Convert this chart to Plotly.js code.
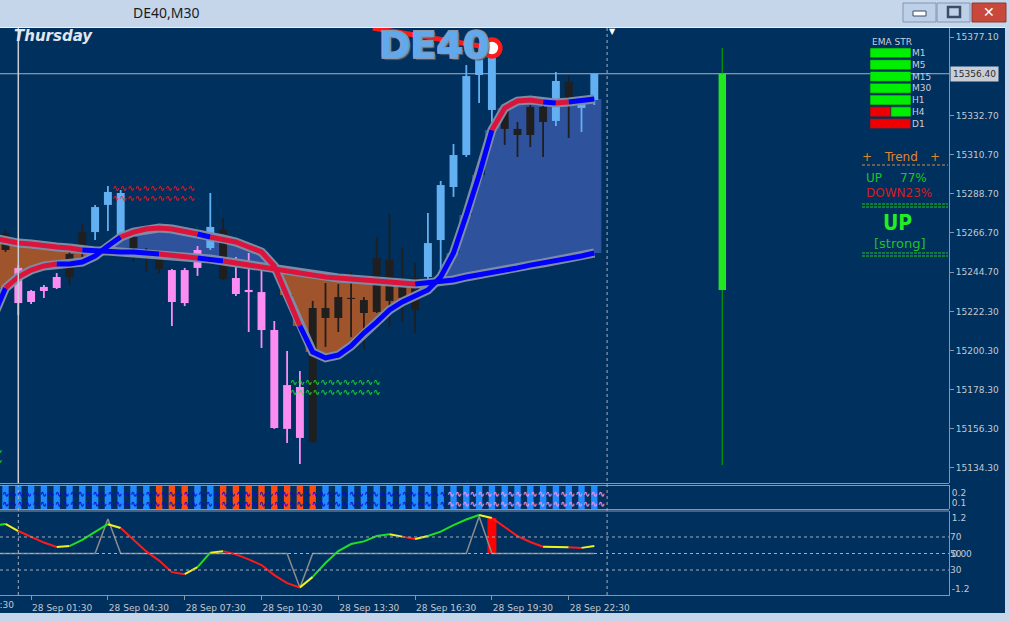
<!DOCTYPE html>
<html><head><meta charset="utf-8">
<script src="https://cdn.plot.ly/plotly-3.0.1.min.js"></script>
<style>html,body{margin:0;padding:0;background:#00305e;overflow:hidden}</style>
</head><body><div id="chart" style="width:1010px;height:621px"></div>
<script>
// ---------------- DATA ----------------
const barTimes = ['28 Sep 00:30','28 Sep 01:00','28 Sep 01:30','28 Sep 02:00','28 Sep 02:30','28 Sep 03:00','28 Sep 03:30','28 Sep 04:00','28 Sep 04:30','28 Sep 05:00','28 Sep 05:30','28 Sep 06:00','28 Sep 06:30','28 Sep 07:00','28 Sep 07:30','28 Sep 08:00','28 Sep 08:30','28 Sep 09:00','28 Sep 09:30','28 Sep 10:00','28 Sep 10:30','28 Sep 11:00','28 Sep 11:30','28 Sep 12:00','28 Sep 12:30','28 Sep 13:00','28 Sep 13:30','28 Sep 14:00','28 Sep 14:30','28 Sep 15:00','28 Sep 15:30','28 Sep 16:00','28 Sep 16:30','28 Sep 17:00','28 Sep 17:30','28 Sep 18:00','28 Sep 18:30','28 Sep 19:00','28 Sep 19:30','28 Sep 20:00','28 Sep 20:30','28 Sep 21:00','28 Sep 21:30','28 Sep 22:00','28 Sep 22:30','28 Sep 23:00','28 Sep 23:30'];
const xTickLabels = ['28 Sep 01:30','28 Sep 04:30','28 Sep 07:30','28 Sep 10:30','28 Sep 13:30','28 Sep 16:30','28 Sep 19:30','28 Sep 22:30'];
const priceTicks = [15377.10,15332.70,15310.70,15288.70,15266.70,15244.70,15222.30,15200.30,15178.30,15156.30,15134.30];
const lastPrice = 15356.40;

const open  = [15266.7,15247.0,15234.0,15236.3,15241.9,15241.9,15259.9,15267.2,15282.5,15289.2,15264.4,15255.4,15252.0,15245.8,15227.2,15247.0,15258.2,15268.4,15241.3,15233.4,15233.4,15212.0,15156.3,15179.9,15148.9,15224.4,15218.8,15230.1,15228.9,15222.2,15251.5,15230.1,15223.3,15241.9,15262.7,15292.6,15310.6,15355.7,15365.8,15336.0,15325.3,15321.9,15337.7,15329.8,15351.7,15337.1,15341.6];
const high  = [15268.4,15248.6,15234.6,15237.4,15244.1,15256.0,15271.7,15282.5,15293.2,15290.9,15265.5,15258.2,15253.2,15246.4,15247.0,15259.3,15289.2,15275.1,15253.2,15255.4,15245.8,15217.1,15200.2,15188.9,15228.4,15238.5,15237.9,15244.7,15230.6,15264.4,15277.4,15258.2,15249.8,15277.9,15296.0,15316.8,15361.3,15372.6,15370.9,15337.1,15329.2,15338.8,15338.8,15357.4,15355.1,15342.7,15356.4];
const low   = [15256.0,15220.5,15226.7,15230.1,15235.1,15237.4,15253.2,15262.7,15267.8,15261.6,15250.3,15244.7,15244.1,15214.3,15225.5,15242.5,15257.1,15240.2,15231.2,15210.9,15201.9,15156.3,15148.4,15136.5,15148.4,15202.5,15210.9,15208.1,15200.8,15221.6,15213.7,15216.5,15210.3,15240.2,15244.1,15287.0,15309.5,15339.9,15329.2,15316.3,15309.5,15315.1,15309.5,15327.0,15320.2,15323.6,15338.8];
const close = [15257.1,15227.2,15227.8,15234.0,15235.7,15254.8,15267.2,15281.3,15289.8,15263.9,15258.2,15254.3,15246.4,15227.8,15245.8,15257.1,15270.1,15240.8,15232.3,15234.6,15212.0,15156.8,15181.0,15151.2,15224.4,15218.8,15230.6,15229.5,15221.6,15252.6,15228.4,15238.5,15241.3,15261.0,15293.7,15310.6,15355.1,15365.8,15336.0,15325.3,15321.9,15337.7,15329.2,15352.3,15340.5,15339.9,15356.4];
const candleColor = ['d','p','p','p','p','d','d','b','b','b','d','d','d','p','p','p','b','d','p','p','p','p','p','p','d','d','d','d','d','d','d','d','d','b','b','b','b','b','b','d','d','d','d','b','d','b','b'];

// moving averages, index 0 = 28 Sep 00:00
const fastMA = [15218.8,15235.7,15241.9,15245.8,15248.1,15249.2,15249.2,15250.3,15253.7,15259.3,15264.4,15267.2,15268.9,15269.5,15268.9,15267.8,15266.1,15264.4,15263.3,15261.6,15258.8,15256.0,15248.1,15231.7,15214.3,15199.6,15196.3,15197.9,15203.0,15210.3,15216.5,15223.3,15227.8,15231.2,15234.6,15241.9,15255.4,15276.8,15299.4,15324.7,15337.1,15341.0,15341.6,15340.5,15339.9,15340.5,15341.0,15342.2];
const slowMA = [15263.9,15262.2,15261.0,15260.5,15259.3,15258.8,15258.2,15257.1,15256.5,15256.5,15256.0,15256.0,15255.4,15254.8,15254.3,15253.7,15252.6,15252.0,15250.9,15249.8,15248.6,15247.5,15246.4,15244.7,15243.6,15243.0,15241.9,15241.3,15240.8,15240.2,15239.6,15239.1,15238.5,15237.9,15238.5,15239.1,15240.2,15241.9,15243.0,15244.1,15245.3,15247.0,15248.6,15249.8,15251.5,15252.6,15253.7,15255.4];
const fastColor = ['b','b','r','r','r','r','b','b','b','b','b','r','r','r','r','r','r','b','r','r','r','r','r','r','r','b','b','b','b','b','b','b','b','b','b','b','b','b','b','b','r','r','r','r','b','r','b','b'];
const slowColor = ['r','r','r','r','r','r','r','r','b','b','b','b','b','b','r','r','r','b','b','r','r','r','r','r','r','r','r','r','r','r','r','r','r','r','b','b','b','b','b','b','b','b','b','b','b','b','b','b'];

// sub window 1: trend state histogram
const stateValue = [0.3,0.3,0.3,0.3,0.3,0.3,0.3,0.3,0.3,0.3,0.3,0.3,0.3,0.3,0.3,0.3,0.3,0.3,0.3,0.3,0.3,0.3,0.3,0.3,0.3,0.3,0.3,0.3,0.3,0.3,0.3,0.3,0.3,0.3,0.3,0.3,0.3,0.3,0.3,0.3,0.3,0.3,0.3,0.3,0.3,0.3,0.3];
const stateColor = ['u','u','u','u','u','u','u','u','u','u','u','u','o','o','o','u','u','o','o','o','o','o','o','o','o','u','u','u','u','u','u','u','u','u','u','u','u','u','u','u','u','u','u','u','u','u','u'];

// sub window 2: oscillator (index 0 = 00:00)
const oscValue = [0.93,1.00,0.76,0.56,0.37,0.22,0.25,0.46,0.73,0.99,0.86,0.46,0.07,-0.24,-0.63,-0.70,-0.46,0.03,0.08,-0.03,-0.20,-0.39,-0.73,-1.00,-1.15,-0.79,-0.32,0.08,0.32,0.41,0.59,0.65,0.57,0.49,0.59,0.74,0.96,1.15,1.30,1.20,0.90,0.59,0.39,0.23,0.22,0.21,0.19,0.25];
const oscColor = ['g','g','y','r','r','r','y','g','g','g','y','r','r','r','r','r','y','g','y','r','r','r','r','r','r','y','g','g','g','g','g','g','y','r','y','g','g','g','g','y','r','r','r','r','y','y','r','y'];
const signalValue = [0,0,0,0,0,0,0,0,0,1.17,0,0,0,0,0,0,0,0,0,0,0,0,0,0,-1.16,0,0,0,0,0,0,0,0,0,0,0,0,0,1.25,0,0,0,0,0,0,0,0,0];
const histValue = [0,0,0,0,0,0,0,0,0,0,0,0,0,0,0,0,0,0,0,0,0,0,0,0,0,0,0,0,0,0,0,0,0,0,0,0,0,0,1.2,0,0,0,0,0,0,0,0];
const oscLevels = [70,50,30];

// higher timeframe candle at right
const htfOpen = [15234.6], htfClose = [15356.4], htfHigh = [15370.9], htfLow = [15136.0];

// EMA strength panel
const tfLabels = ['M1','M5','M15','M30','H1','H4','D1'];
const tfUpPct = [100,100,100,100,100,49,0];
const trendUp = 77, trendDown = 23;

// arrow / marker object
const markLineX = [29.7, 39], markLineY = [15382.2, 15370.9];
const markDotX = [39], markDotY = [15370.9];

// zigzag objects [startBar, endBar, price, colour]
const zigzags = [[9.2,15.9,15292.0,'#ff1414'],[9.2,15.9,15286.4,'#ff1414'],[23.1,29.9,15182.7,'#22e822'],[23.1,29.9,15177.1,'#22e822']];

// ---------------- LAYOUT HELPERS ----------------
const PL = 0, PR = 949, PT = 28, PB = 595;
const px = x => (x - PL) / (PR - PL);
const py = y => (PB - y) / (PB - PT);
const xRange = [0.5703, 74.711];
const FONT = 'DejaVu Sans';
const AX = '#8a94a6', TXT = '#c3c8d1';

const xBars = barTimes.map((t, k) => k + 1);
const xLine = fastMA.map((v, k) => k);
const candleCol = {b:'#62b0f2', p:'#fb8cf2', d:'#1f1f1f'};
const maCol = {r:'#dc143c', b:'#0000ff'};
const oscCol = {g:'#1fe01f', y:'#f2f21e', r:'#ff1a1a'};

const traces = [];
// fill between MAs (histogram columns)
const fillCols = fastMA.map((f,i)=> f < slowMA[i] ? '#a0542c' : '#2f529c');
traces.push({type:'bar', x:xLine, base:fastMA.map((f,i)=>Math.min(f, slowMA[i])), y:fastMA.map((f,i)=>Math.abs(f-slowMA[i])),
  width:1.1, marker:{color:fillCols, line:{width:0}}, xaxis:'x', yaxis:'y', hoverinfo:'skip'});
// candles
traces.push({type:'bar', x:xBars, base:low, y:high.map((h,i)=>h-low[i]), width:0.14,
  marker:{color:candleColor.map(c=>candleCol[c])}, xaxis:'x', yaxis:'y'});
traces.push({type:'bar', x:xBars, base:open.map((o,i)=>Math.min(o, close[i])), y:open.map((o,i)=>Math.max(Math.abs(close[i]-o), 0.6)), width:0.62,
  marker:{color:candleColor.map(c=>candleCol[c])}, xaxis:'x', yaxis:'y'});
// higher timeframe candle
traces.push({type:'bar', x:[57], base:htfLow, y:htfHigh.map((h,i)=>h-htfLow[i]), width:0.09, marker:{color:'#0a9a0a'}, xaxis:'x', yaxis:'y'});
traces.push({type:'bar', x:[57], base:htfOpen, y:htfClose.map((c,i)=>c-htfOpen[i]), width:0.58, marker:{color:'#22e622'}, xaxis:'x', yaxis:'y'});

function runs(xs, ys, cols, map, extra) {
  const out = []; let s = 0;
  for (let i = 1; i < xs.length; i++) {
    const c = cols[i], nx = i + 1 < xs.length ? cols[i+1] : null;
    if (nx !== c) {
      out.push({type:'scatter', mode:'lines', x:xs.slice(s, i+1), y:ys.slice(s, i+1),
        line:{color:map[c], width:extra.width}, xaxis:'x', yaxis:extra.yaxis});
      s = i;
    }
  }
  return out;
}
// MA outlines then coloured lines
[slowMA, fastMA].forEach(ma => traces.push({type:'scatter', mode:'lines', x:xLine, y:ma, line:{color:'#7d8ca6', width:9}, xaxis:'x', yaxis:'y'}));
traces.push(...runs(xLine, slowMA, slowColor, maCol, {width:5, yaxis:'y'}));
traces.push(...runs(xLine, fastMA, fastColor, maCol, {width:5, yaxis:'y'}));
// marker line + dot
traces.push({type:'scatter', mode:'lines', x:markLineX, y:markLineY, line:{color:'#ff1a1a', width:5}, xaxis:'x', yaxis:'y'});
traces.push({type:'scatter', mode:'markers', x:markDotX, y:markDotY, marker:{size:17, color:'#ffffff', line:{color:'#ff1a1a', width:4.5}}, xaxis:'x', yaxis:'y'});

// sub window 1
traces.push({type:'bar', x:xBars, base:0, y:stateValue, width:0.5, marker:{color:stateColor.map(c=> c==='o' ? '#ff4a10' : '#1e8cff')}, xaxis:'x', yaxis:'y2'});

// sub window 2
traces.push(...oscLevels.map(l => ({type:'scatter', mode:'lines', x:xRange, y:[l,l], line:{color:'#a6aebb', width:1, dash:'3px,3px'}, xaxis:'x', yaxis:'y4'})));
traces.push({type:'bar', x:xBars, base:0, y:histValue, width:0.7, marker:{color:'#ff0000'}, xaxis:'x', yaxis:'y3'});
traces.push({type:'scatter', mode:'lines', x:xLine, y:signalValue, line:{color:'#8c8c8c', width:1.5}, xaxis:'x', yaxis:'y3'});
traces.push(...runs(xLine, oscValue, oscColor, oscCol, {width:2, yaxis:'y3'}));

// EMA strength bars
traces.push({type:'bar', orientation:'h', y:tfLabels, x:tfUpPct.map(u=>100-u), base:0, width:0.84, marker:{color:'#ee0000', line:{color:'#1a3050', width:0.6}}, xaxis:'x2', yaxis:'y5'});
traces.push({type:'bar', orientation:'h', y:tfLabels, x:tfUpPct, base:tfUpPct.map(u=>100-u), width:0.84, marker:{color:'#00ee00', line:{color:'#1a3050', width:0.6}}, xaxis:'x2', yaxis:'y5'});

// ---------------- SHAPES ----------------
const frame = '#c5d6eb';
const shapes = [];
const hline = (y, color, dash, x0, x1, w) => shapes.push({type:'line', xref:'paper', yref:'paper', x0:px(x0===undefined?0:x0), x1:px(x1===undefined?949:x1), y0:py(y), y1:py(y), line:{color, width:w||1, dash:dash||'solid'}});
// window frame
shapes.push({type:'rect', xref:'paper', yref:'paper', x0:-0.02, x1:1.08, y0:py(27), y1:py(-2), fillcolor:frame, line:{width:0}, layer:'above'});
hline(27.5, '#eaf1fa', 'solid', -5, 1015);
shapes.push({type:'rect', xref:'paper', yref:'paper', x0:px(1005), x1:px(1012), y0:py(625), y1:py(26), fillcolor:frame, line:{width:0}});
shapes.push({type:'rect', xref:'paper', yref:'paper', x0:-0.02, x1:1.08, y0:py(625), y1:py(613), fillcolor:frame, line:{width:0}});
// window buttons
shapes.push({type:'rect', xref:'paper', yref:'paper', x0:px(903), x1:px(936), y0:py(22), y1:py(3), fillcolor:'#bdd0e8', line:{color:'#8196b4', width:1}});
shapes.push({type:'rect', xref:'paper', yref:'paper', x0:px(937), x1:px(970), y0:py(22), y1:py(3), fillcolor:'#bdd0e8', line:{color:'#8196b4', width:1}});
shapes.push({type:'rect', xref:'paper', yref:'paper', x0:px(972), x1:px(1006), y0:py(22), y1:py(3), fillcolor:'#c9483c', line:{color:'#8a3a32', width:1}});
shapes.push({type:'rect', xref:'paper', yref:'paper', x0:px(913), x1:px(926), y0:py(16), y1:py(11), fillcolor:'#ffffff', line:{color:'#3a4c66', width:1}});
shapes.push({type:'rect', xref:'paper', yref:'paper', x0:px(948), x1:px(960), y0:py(17), y1:py(7), fillcolor:'rgba(0,0,0,0)', line:{color:'#3a4c66', width:2.5}});
// panel borders
hline(483.5, AX); hline(485.5, AX); hline(509.5, AX); hline(511, AX);
// vertical lines
shapes.push({type:'line', xref:'x', yref:'paper', x0:2, x1:2, y0:py(483), y1:1, line:{color:'#c9ced6', width:1.5}});
shapes.push({type:'line', xref:'x', yref:'paper', x0:2, x1:2, y0:0, y1:py(485), line:{color:'#a6aebb', width:1, dash:'dot'}});
shapes.push({type:'line', xref:'x', yref:'paper', x0:48, x1:48, y0:0, y1:1, line:{color:'#a6aebb', width:1, dash:'dot'}});
// last price line
shapes.push({type:'line', xref:'paper', yref:'y', x0:0, x1:1, y0:lastPrice, y1:lastPrice, line:{color:'#a9b1bd', width:1}, layer:'below'});
// trend panel separators
hline(165, '#d88a3a', '3px,2px', 862, 948);
hline(204, '#22c422', '3px,1px', 862, 948); hline(207, '#22c422', '3px,1px', 862, 948);
hline(253, '#22c422', '3px,1px', 862, 948); hline(256, '#22c422', '3px,1px', 862, 948);

// ---------------- ANNOTATIONS ----------------
const ann = [];
const A = (text, x, y, o) => ann.push(Object.assign({text, x, y, xref:'paper', yref:'paper', showarrow:false, xanchor:'center', yanchor:'middle', font:{family:FONT, size:12, color:TXT}}, o||{}));
A('DE40,M30', px(166), py(13), {font:{family:'Noto Sans', size:14, color:'#1b1b1b'}});
A('✕', px(989), py(12.5), {font:{family:FONT, size:14, color:'#ffffff', weight:'bold'}});
A('Thursday', px(12), py(35.5), {xanchor:'left', font:{family:FONT, size:15, color:'#e1e7f0', weight:'bold', style:'italic'}});
A('DE40', px(434), py(45), {font:{family:FONT, size:38, color:'#5fa9ec', weight:'bold', shadow:'1px 1px 0 #8a97aa, -1px -1px 0 #8a97aa, 1px -1px 0 #8a97aa, -1px 1px 0 #8a97aa, 2px 2px 1px #4a5a70'}});
A('▼', 48.4, py(31), {xref:'x', font:{family:FONT, size:8, color:'#ffffff'}});
A('27 Sep 22:30', px(-48), py(604.5), {xanchor:'left', font:{family:FONT, size:9, color:TXT}});
// last price label
ann.push({text:lastPrice.toFixed(2), x:px(950), y:lastPrice, xref:'paper', yref:'y', xanchor:'left', yanchor:'middle', showarrow:false,
  bgcolor:'#c9ced6', borderpad:2, font:{family:FONT, size:9, color:'#2a2a2a'}});
// EMA strength + trend panel
A('EMA STR', px(892), py(42.5), {font:{family:FONT, size:9, color:'#c8ced8'}});
A('+', px(867), py(157), {font:{family:FONT, size:12, color:'#e0862e'}});
A('Trend', px(901), py(157), {font:{family:FONT, size:12, color:'#e0862e'}});
A('+', px(935), py(157), {font:{family:FONT, size:12, color:'#e0862e'}});
A('UP', px(864), py(178), {xanchor:'left', font:{family:FONT, size:12, color:'#1fc41f'}});
A(trendUp + '%', px(929), py(178), {xanchor:'right', font:{family:FONT, size:12, color:'#1fc41f'}});
A('DOWN' + trendDown + '%', px(864), py(193), {xanchor:'left', font:{family:FONT, size:12, color:'#d41e1e'}});
A('UP', px(897), py(223), {font:{family:'DejaVu Sans Condensed, DejaVu Sans', size:21, color:'#22ee22', weight:'bold'}});
A('[strong]', px(900), py(243.5), {font:{family:FONT, size:13, color:'#1fc41f'}});
// zigzag objects
zigzags.forEach(z => ann.push({text:'∿'.repeat(Math.round((z[1]-z[0])*12.8/7.5)), x:z[0], y:z[2], xref:'x', yref:'y', xanchor:'left', yanchor:'middle', showarrow:false, font:{family:FONT, size:9, color:z[3]}}));
ann.push({text:'∿', x:0.95, y:15144.4, xref:'x', yref:'y', xanchor:'right', yanchor:'middle', showarrow:false, font:{family:FONT, size:9, color:'#22e822'}});
ann.push({text:'∿', x:0.95, y:15138.8, xref:'x', yref:'y', xanchor:'right', yanchor:'middle', showarrow:false, font:{family:FONT, size:9, color:'#22e822'}});
// zigzag rows in sub window 1
[[0.1857,'#0c0cc8',0,35.3],[0.0905,'#0c0cc8',0,35.3],[0.1857,'#f090e8',35.3,47.5],[0.0905,'#f090e8',35.3,47.5]].forEach(z =>
  ann.push({text:'∿'.repeat(Math.round((z[3]-Math.max(z[2],0.57))*12.8/7.5)), x:Math.max(z[2],0.6), y:z[0], xref:'x', yref:'y2', xanchor:'left', yanchor:'middle', showarrow:false, font:{family:FONT, size:9, color:z[1], weight:'bold'}}));

const tickFont = {family:FONT, size:9, color:TXT};
const layout = {
  width:1010, height:621, margin:{l:0, r:61, t:28, b:26},
  paper_bgcolor:'#00305e', plot_bgcolor:'#00305e', showlegend:false, hovermode:false, barmode:'overlay',
  xaxis:{domain:[0,1], range:xRange, anchor:'y3', showgrid:false, zeroline:false, showline:true, linecolor:AX, linewidth:1,
    ticks:'outside', ticklen:4, tickcolor:AX, tickvals:xTickLabels.map(t=>barTimes.indexOf(t)+1), ticktext:xTickLabels,
    ticklabelshift:31, tickfont:tickFont, fixedrange:true},
  yaxis:{domain:[py(483),1], range:[15125.82,15382.17], side:'right', anchor:'x', showgrid:false, zeroline:false, showline:true, linecolor:AX,
    ticks:'outside', ticklen:4, tickcolor:AX, tickvals:priceTicks, ticktext:priceTicks.map(v=>v.toFixed(2)), tickfont:tickFont},
  yaxis2:{domain:[py(509),py(485)], range:[0.0429,0.2714], side:'right', anchor:'x', showgrid:false, zeroline:false, showline:true, linecolor:AX,
    ticks:'', tickvals:[0.1,0.2], ticktext:['0.1','0.2'], tickfont:tickFont},
  yaxis3:{domain:[0,py(511)], range:[-1.403,1.437], side:'right', anchor:'x', showgrid:false, zeroline:false, showline:true, linecolor:AX,
    ticks:'', tickvals:[-1.2,0,1.2], ticktext:['-1.2','0.00','1.2'], tickfont:tickFont},
  yaxis4:{overlaying:'y3', range:[-0.3,101.5], side:'right', anchor:'x', showgrid:false, zeroline:false, showline:false,
    ticks:'', tickvals:oscLevels, ticktext:oscLevels.map(String), tickfont:tickFont},
  xaxis2:{domain:[px(870),px(911)], range:[0,100], anchor:'y5', visible:false},
  yaxis5:{domain:[py(129.5),py(47)], anchor:'x2', type:'category', categoryorder:'array', categoryarray:tfLabels, autorange:'reversed',
    side:'right', showgrid:false, zeroline:false, showline:false, ticks:'', tickfont:{family:FONT, size:9, color:'#c8ced8'}},
  shapes, annotations:ann
};
Plotly.newPlot('chart', traces, layout, {staticPlot:true, displayModeBar:false});
</script></body></html>
